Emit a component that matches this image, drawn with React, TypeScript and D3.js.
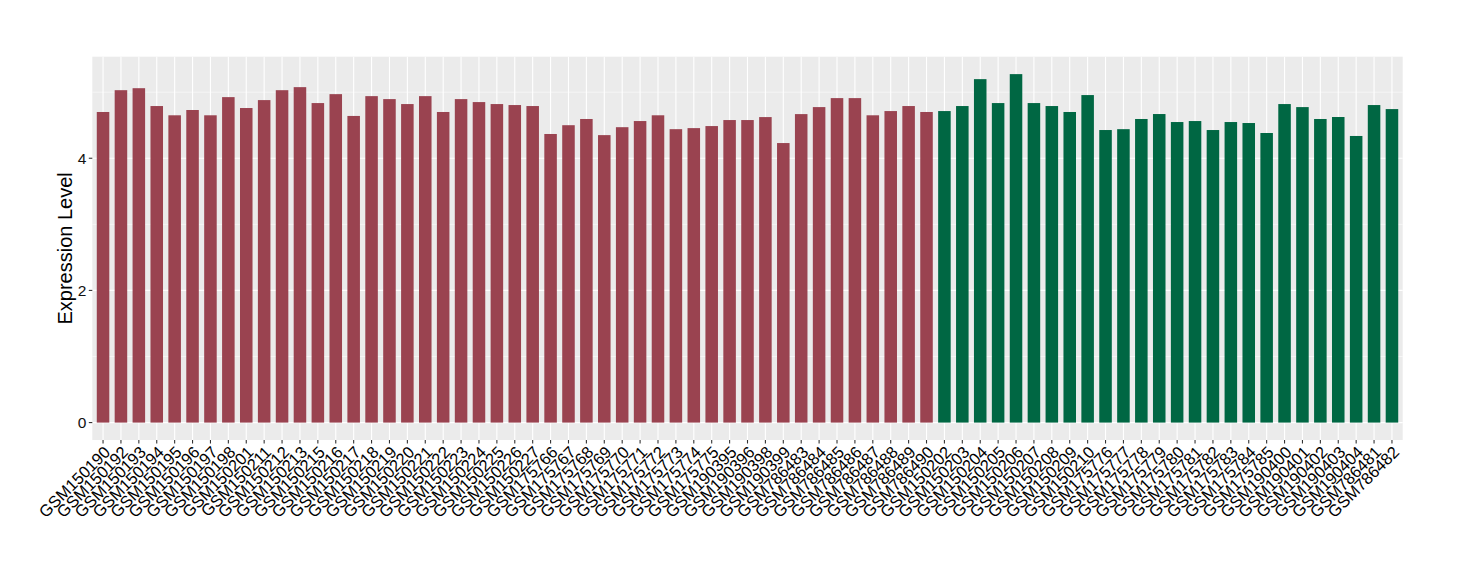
import React from "react";
import * as d3 from "d3";

const samples: string[] = [
  "GSM150190","GSM150192","GSM150193","GSM150194","GSM150195","GSM150196","GSM150197","GSM150198","GSM150201","GSM150211",
  "GSM150212","GSM150213","GSM150215","GSM150216","GSM150217","GSM150218","GSM150219","GSM150220","GSM150221","GSM150222",
  "GSM150223","GSM150224","GSM150225","GSM150226","GSM150227","GSM175766","GSM175767","GSM175768","GSM175769","GSM175770",
  "GSM175771","GSM175772","GSM175773","GSM175774","GSM175775","GSM190395","GSM190396","GSM190398","GSM190399","GSM786483",
  "GSM786484","GSM786485","GSM786486","GSM786487","GSM786488","GSM786489","GSM786490",
  "GSM150202","GSM150203","GSM150204","GSM150205","GSM150206","GSM150207","GSM150208","GSM150209","GSM150210",
  "GSM175776","GSM175777","GSM175778","GSM175779","GSM175780","GSM175781","GSM175782","GSM175783","GSM175784","GSM175785",
  "GSM190400","GSM190401","GSM190402","GSM190403","GSM190404","GSM786481","GSM786482"
];

const values: number[] = [
  4.70,5.03,5.06,4.79,4.65,4.73,4.65,4.925,4.76,4.88,
  5.03,5.076,4.835,4.97,4.64,4.94,4.895,4.82,4.94,4.70,
  4.895,4.85,4.82,4.805,4.79,4.367,4.50,4.594,4.35,4.47,
  4.563,4.65,4.44,4.456,4.487,4.578,4.578,4.623,4.23,4.668,
  4.774,4.91,4.91,4.65,4.714,4.79,4.70,
  4.714,4.79,5.197,4.835,5.273,4.835,4.79,4.70,4.956,
  4.427,4.44,4.594,4.669,4.548,4.563,4.427,4.548,4.533,4.382,
  4.82,4.774,4.594,4.624,4.337,4.805,4.744
];

const groups: string[] = samples.map((_, i) => (i < 47 ? "A" : "B"));
const groupColors: Record<string, string> = { A: "#9A4350", B: "#006743" };

const yMajorTicks: number[] = [0, 2, 4];
const yMinorTicks: number[] = [1, 3, 5];

export default function App() {
  const W = 1460, H = 580;
  const left = 92.3, right = 1402.7, top = 56.7, bottom = 440;
  const yMax = d3.max(values) as number;
  const pad = yMax * 0.05;

  const x = d3.scaleBand<string>().domain(samples).range([left, right]).paddingInner(0.3).paddingOuter(0.25);
  const y = d3.scaleLinear().domain([-pad, yMax + pad]).range([bottom, top]);
  const font = "'Liberation Sans', Arial, Helvetica, sans-serif";

  return (
    <svg width={W} height={H} style={{ position: "absolute", left: 0, top: 0 }}>
      <rect x={0} y={0} width={W} height={H} fill="#fff" />
      <rect x={left} y={top} width={right - left} height={bottom - top} fill="#EBEBEB" />
      {yMinorTicks.map((t) => (
        <line key={"mn" + t} x1={left} x2={right} y1={y(t)} y2={y(t)} stroke="#fff" strokeWidth={0.55} />
      ))}
      {yMajorTicks.map((t) => (
        <line key={"mj" + t} x1={left} x2={right} y1={y(t)} y2={y(t)} stroke="#fff" strokeWidth={1.1} />
      ))}
      {samples.map((s) => {
        const cx = (x(s) as number) + x.bandwidth() / 2;
        return <line key={"vg" + s} x1={cx} x2={cx} y1={top} y2={bottom} stroke="#fff" strokeWidth={1.1} />;
      })}
      {samples.map((s, i) => (
        <rect
          key={"b" + s}
          x={x(s) as number}
          width={x.bandwidth()}
          y={y(values[i])}
          height={y(0) - y(values[i])}
          fill={groupColors[groups[i]]}
        />
      ))}
      {yMajorTicks.map((t) => (
        <g key={"yt" + t}>
          <line x1={left - 3.5} x2={left} y1={y(t)} y2={y(t)} stroke="#333" strokeWidth={1.1} />
          <text x={left - 6} y={y(t)} dy="0.36em" textAnchor="end" fontSize={15.5} fill="#111" fontFamily={font}>
            {t}
          </text>
        </g>
      ))}
      {samples.map((s) => {
        const cx = (x(s) as number) + x.bandwidth() / 2;
        return (
          <g key={"xt" + s}>
            <line x1={cx} x2={cx} y1={bottom} y2={bottom + 3.5} stroke="#333" strokeWidth={1.1} />
            <text
              transform={`translate(${cx},${bottom + 5}) rotate(-45)`}
              dy="0.7em"
              textAnchor="end"
              fontSize={16.5}
              fill="#000"
              fontFamily={font}
            >
              {s}
            </text>
          </g>
        );
      })}
      <text
        transform={`translate(72,${(top + bottom) / 2}) rotate(-90)`}
        textAnchor="middle"
        fontSize={20}
        fill="#000"
        fontFamily={font}
      >
        Expression Level
      </text>
    </svg>
  );
}
